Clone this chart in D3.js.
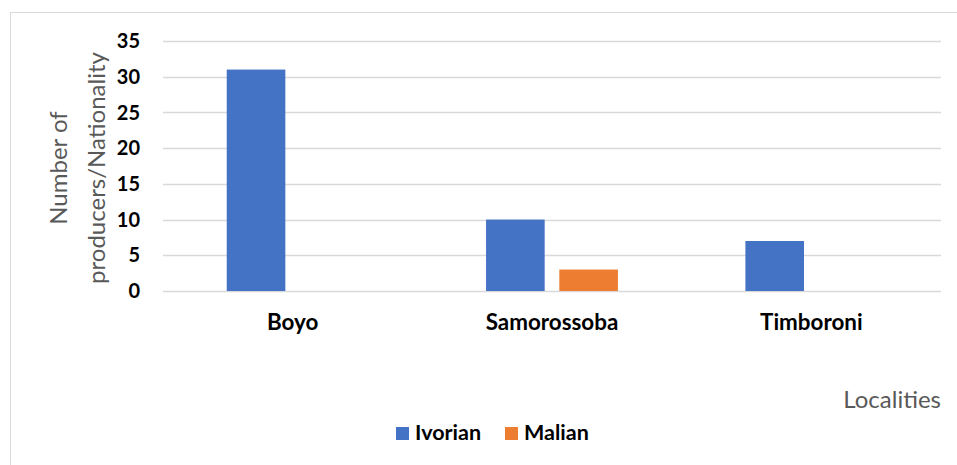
<!DOCTYPE html>
<html lang="en">
<head>
<meta charset="utf-8">
<style>
  body { margin: 0; background: #fff; }
  svg { display: block; font-family: Lato, "Open Sans", sans-serif; }
</style>
</head>
<body>
<svg width="957" height="465"></svg>
<script src="https://cdn.jsdelivr.net/npm/d3@7"></script>
<script>
// data
var localities = ['Boyo', 'Samorossoba', 'Timboroni']
var nationalities = ['Ivorian', 'Malian']
var ivorian = [31, 10, 7]
var malian = [0, 3, 0]
var yTicks = [0, 5, 10, 15, 20, 25, 30, 35]
var colors = ['#4472C4', '#ED7D31']

var rows = localities.map(function (name, i) {
  return { name: name, values: [ivorian[i], malian[i]] }
})

var svg = d3.select('svg')

// outer chart border (only top/left visible in the crop)
svg.append('rect')
  .attr('x', 10.5).attr('y', 12.5)
  .attr('width', 980).attr('height', 480)
  .attr('fill', 'none')
  .attr('stroke', '#D9D9D9')

var plot = { left: 163, right: 941, top: 41, bottom: 291 }

var x0 = d3.scaleBand()
  .domain(localities)
  .range([plot.left, plot.right])

var x1 = d3.scaleBand()
  .domain(nationalities)
  .range([0, x0.bandwidth()])
  .paddingInner(0.2)
  .paddingOuter(0.87)

var y = d3.scaleLinear()
  .domain([0, 35])
  .range([plot.bottom, plot.top])

var z = d3.scaleOrdinal().domain(nationalities).range(colors)

// gridlines
svg.append('g')
  .selectAll('line')
  .data(yTicks)
  .enter().append('line')
    .attr('x1', plot.left).attr('x2', plot.right)
    .attr('y1', function (d) { return Math.round(y(d)) + 0.5 })
    .attr('y2', function (d) { return Math.round(y(d)) + 0.5 })
    .attr('stroke', '#D9D9D9')
    .attr('stroke-width', 1.3)

// y tick labels
svg.append('g')
  .selectAll('text')
  .data(yTicks)
  .enter().append('text')
    .attr('x', 140)
    .attr('y', function (d) { return y(d) })
    .attr('dy', '0.36em')
    .attr('text-anchor', 'end')
    .attr('font-size', 20)
    .attr('font-weight', 'bold')
    .attr('fill', '#000')
    .text(function (d) { return d })

// bars
svg.append('g')
  .selectAll('g')
  .data(rows)
  .enter().append('g')
    .attr('transform', function (d) { return 'translate(' + x0(d.name) + ',0)' })
  .selectAll('rect')
  .data(function (d) {
    return nationalities.map(function (k, i) { return { key: k, value: d.values[i] } })
  })
  .enter().append('rect')
    .attr('x', function (d) { return x1(d.key) })
    .attr('width', x1.bandwidth())
    .attr('y', function (d) { return y(d.value) })
    .attr('height', function (d) { return y(0) - y(d.value) })
    .attr('fill', function (d) { return z(d.key) })

// category labels
svg.append('g')
  .selectAll('text')
  .data(localities)
  .enter().append('text')
    .attr('x', function (d) { return x0(d) + x0.bandwidth() / 2 })
    .attr('y', 330)
    .attr('text-anchor', 'middle')
    .attr('font-size', 22.4)
    .attr('font-weight', 'bold')
    .attr('fill', '#000')
    .text(function (d) { return d })

// y axis title, two lines
var yTitle = svg.append('text')
  .attr('transform', 'translate(0,168) rotate(-90)')
  .attr('text-anchor', 'middle')
  .attr('font-size', 24)
  .attr('fill', '#595959')
yTitle.append('tspan').attr('x', 0).attr('y', 67).text('Number of')
yTitle.append('tspan').attr('x', 0).attr('y', 105).text('producers/Nationality')

// x axis title
svg.append('text')
  .attr('x', 941)
  .attr('y', 408)
  .attr('text-anchor', 'end')
  .attr('font-size', 24)
  .attr('fill', '#595959')
  .text('Localities')

// legend
var legend = svg.append('g')
var legendX = [396, 505]
nationalities.forEach(function (k, i) {
  legend.append('rect')
    .attr('x', legendX[i]).attr('y', 427)
    .attr('width', 13).attr('height', 13)
    .attr('fill', z(k))
  legend.append('text')
    .attr('x', legendX[i] + 19)
    .attr('y', 440)
    .attr('font-size', 21.5)
    .attr('font-weight', 'bold')
    .attr('fill', '#000')
    .text(k)
})
</script>
</body>
</html>
